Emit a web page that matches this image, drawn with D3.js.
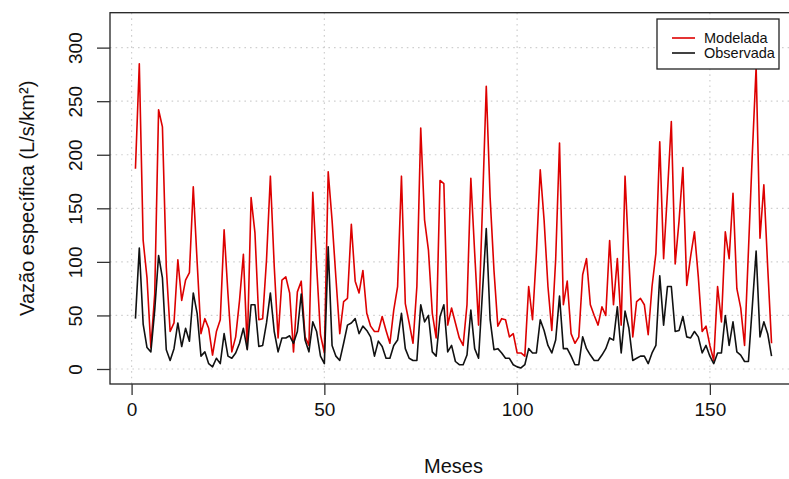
<!DOCTYPE html>
<html>
<head>
<meta charset="utf-8">
<script src="https://cdn.jsdelivr.net/npm/d3@7"></script>
<style>
  html, body { margin: 0; padding: 0; background: #fff; }
  svg { display: block; font-family: "Liberation Sans", Arial, Helvetica, sans-serif; }
</style>
</head>
<body>
<svg id="chart" width="789" height="479"></svg>
<script>
// Monthly specific discharge (L/s/km²): modelled vs observed
const modelada = [
  187, 285, 120, 85, 20, 70, 242, 226, 95, 35,
  43, 102, 64, 83, 90, 170, 100, 33, 47, 38,
  13, 35, 46, 130, 70, 16, 30, 64, 107, 19,
  160, 127, 46, 47, 102, 180, 96, 29, 83, 86,
  71, 16, 72, 82, 30, 22, 165, 96, 32, 15,
  184, 139, 85, 33, 63, 66, 135, 82, 71, 92,
  52, 40, 35, 35, 49, 36, 24, 55, 77, 180,
  61, 43, 24, 77, 225, 139, 111, 52, 29, 176,
  173, 41, 57, 43, 29, 22, 60, 178, 108, 41,
  150, 264, 160, 92, 40, 47, 46, 30, 33, 15,
  15, 12, 77, 46, 108, 186, 139, 77, 36, 102,
  211, 60, 82, 33, 24, 30, 88, 103, 60, 50,
  41, 58, 50, 120, 60, 103, 41, 180, 102, 30,
  63, 66, 60, 32, 77, 108, 212, 103, 165, 231,
  98, 138, 188, 78, 105, 128, 86, 35, 40, 22,
  8, 77, 44, 128, 103, 164, 75, 57, 22, 110,
  200, 282, 122, 172, 95, 24
];
const observada = [
  47, 113, 42, 20, 16, 55, 106, 85, 18, 8,
  19, 43, 21, 38, 26, 71, 52, 12, 16, 5,
  2, 10, 5, 33, 12, 10, 15, 24, 38, 18,
  60, 60, 21, 22, 43, 71, 35, 16, 29, 29,
  31, 24, 35, 70, 27, 16, 44, 35, 12, 5,
  114, 22, 12, 8, 24, 41, 43, 47, 33, 40,
  36, 30, 12, 26, 21, 10, 10, 22, 27, 52,
  19, 10, 8, 8, 60, 44, 50, 16, 12, 49,
  60, 16, 22, 7, 4, 4, 13, 55, 19, 10,
  71, 131, 46, 18, 19, 15, 10, 10, 4, 2,
  1, 4, 19, 15, 15, 46, 36, 22, 15, 27,
  68, 19, 19, 12, 4, 4, 30, 19, 13, 8,
  8, 13, 19, 29, 27, 58, 15, 54, 38, 8,
  10, 12, 12, 5, 15, 22, 87, 41, 77, 77,
  35, 36, 49, 30, 29, 35, 30, 15, 22, 12,
  5, 15, 15, 50, 22, 44, 16, 13, 7, 7,
  58, 110, 30, 44, 33, 12
];
const xTicks = [0, 50, 100, 150];
const yTicks = [0, 50, 100, 150, 200, 250, 300];
const seriesNames = ["Modelada", "Observada"];
const seriesColors = ["#dd0000", "#111111"];
const xTitle = "Meses";
const yTitle = "Vazão específica (L/s/km²)";

const svg = d3.select("#chart");
const plot = { left: 110, right: 797, top: 12.7, bottom: 384 };

const n = modelada.length;
const pad = 0.04 * (n - 1);
const x = d3.scaleLinear().domain([1 - pad, n + pad]).range([plot.left, plot.right]);
const y = d3.scaleLinear().domain([-14, 332.6]).range([plot.bottom, plot.top]);

svg.append("rect").attr("width", 789).attr("height", 479).attr("fill", "#fff");

// dotted reference grid
const grid = svg.append("g").attr("stroke", "#cfcfcf").attr("stroke-width", 1.2)
  .attr("stroke-dasharray", "1.6,4");
grid.selectAll("line.v").data(xTicks).join("line")
  .attr("x1", d => x(d)).attr("x2", d => x(d))
  .attr("y1", plot.top).attr("y2", plot.bottom);
grid.selectAll("line.h").data(yTicks).join("line")
  .attr("x1", plot.left).attr("x2", plot.right)
  .attr("y1", d => y(d)).attr("y2", d => y(d));

// series lines
const line = d3.line().x((d, i) => x(i + 1)).y(d => y(d));
[modelada, observada].forEach((vals, k) => {
  svg.append("path").datum(vals)
    .attr("fill", "none")
    .attr("stroke", seriesColors[k])
    .attr("stroke-width", 1.6)
    .attr("stroke-linejoin", "round")
    .attr("d", line);
});

// plot frame
svg.append("rect")
  .attr("x", plot.left).attr("y", plot.top)
  .attr("width", plot.right - plot.left).attr("height", plot.bottom - plot.top)
  .attr("fill", "none").attr("stroke", "#222").attr("stroke-width", 1.3);

// axes
const xAxis = svg.append("g").attr("transform", `translate(0,${plot.bottom})`)
  .call(d3.axisBottom(x).tickValues(xTicks).tickSize(11).tickSizeOuter(0).tickPadding(8));
xAxis.select(".domain").remove();
xAxis.selectAll(".tick line").attr("stroke", "#333").attr("stroke-width", 1.3);
xAxis.selectAll(".tick text").attr("font-size", 19).attr("fill", "#111")
  .attr("font-family", "Liberation Sans, Arial, sans-serif");

const yAxis = svg.append("g").attr("transform", `translate(${plot.left},0)`)
  .call(d3.axisLeft(y).tickValues(yTicks).tickSize(13).tickSizeOuter(0));
yAxis.select(".domain").remove();
yAxis.selectAll(".tick line").attr("stroke", "#333").attr("stroke-width", 1.3);
yAxis.selectAll(".tick text")
  .attr("font-size", 19).attr("fill", "#111")
  .attr("font-family", "Liberation Sans, Arial, sans-serif")
  .attr("x", null).attr("dy", null)
  .attr("text-anchor", "middle")
  .attr("transform", "translate(-35,0) rotate(-90)")
  .attr("dominant-baseline", "central");

// axis titles
svg.append("text").attr("x", (plot.left + plot.right) / 2).attr("y", 473)
  .attr("text-anchor", "middle").attr("font-size", 20).attr("fill", "#111").text(xTitle);
svg.append("text")
  .attr("transform", `translate(27,${(plot.top + plot.bottom) / 2}) rotate(-90)`)
  .attr("text-anchor", "middle").attr("dominant-baseline", "central")
  .attr("font-size", 20).attr("fill", "#111").text(yTitle);

// legend
const lg = svg.append("g").attr("transform", "translate(657,19)");
lg.append("rect").attr("width", 122).attr("height", 50)
  .attr("fill", "#fff").attr("stroke", "#222").attr("stroke-width", 1.3);
seriesNames.forEach((name, k) => {
  const yy = 19 + k * 15;
  lg.append("line").attr("x1", 15).attr("x2", 38).attr("y1", yy).attr("y2", yy)
    .attr("stroke", seriesColors[k]).attr("stroke-width", 1.6);
  lg.append("text").attr("x", 47).attr("y", yy).attr("dominant-baseline", "central")
    .attr("font-size", 14.5).attr("fill", "#111").text(name);
});
</script>
</body>
</html>
